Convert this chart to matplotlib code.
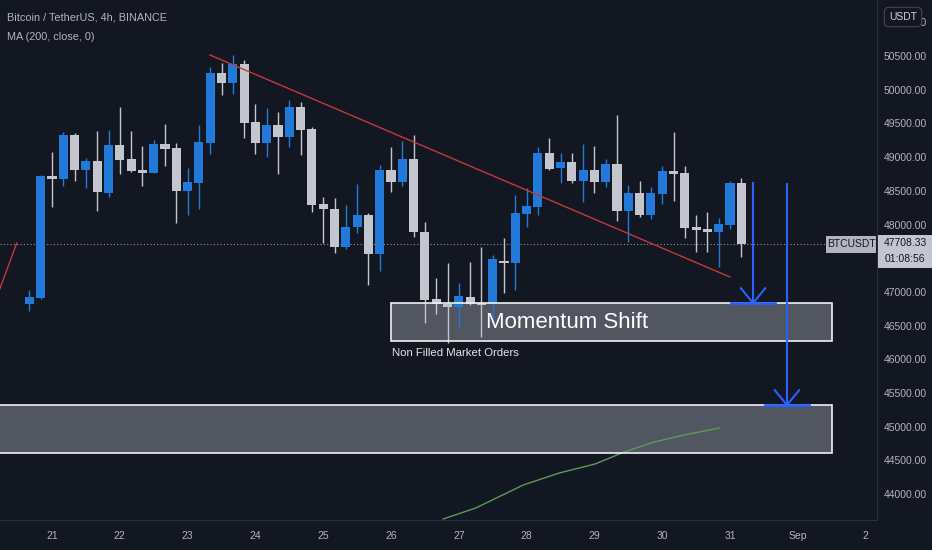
import numpy as np
import matplotlib.pyplot as plt
import matplotlib.transforms as mtransforms
from matplotlib.patches import Rectangle

# BTCUSDT 4h candles, first one opens Aug 20 16:00
opens  = [46820, 46909, 48720, 48675, 49328, 48809, 48942, 48467, 49180, 48972,
          48809, 48764, 49194, 49135, 48497, 48616, 49209, 50248, 50099, 50381,
          49521, 49209, 49476, 49298, 49743, 49417, 48304, 48230, 47666, 47963,
          48141, 47562, 48809, 48631, 48972, 47889, 46894, 46820, 46776, 46924,
          46835, 46820, 47458, 47429, 48156, 48259, 49061, 48838, 48927, 48645,
          48809, 48631, 48898, 48200, 48467, 48141, 48452, 48794, 48764, 47963,
          47933, 47889, 47993, 48616]
highs  = [47030, 48730, 49076, 49372, 49358, 48987, 49387, 49402, 49743, 49387,
          49165, 49254, 49491, 49209, 48838, 49476, 50337, 50396, 50515, 50440,
          49788, 49728, 49669, 49847, 49817, 49447, 48408, 48393, 48289, 48601,
          48170, 48883, 49150, 49239, 49328, 48037, 47206, 47429, 47132, 47444,
          47666, 47548, 47800, 48438, 48541, 49150, 49283, 49061, 49061, 49194,
          49165, 48972, 49625, 48586, 48645, 48556, 48868, 49372, 48868, 48141,
          48185, 48096, 48640, 48690]
lows   = [46717, 46890, 48260, 48571, 48645, 48541, 48200, 48408, 48749, 48779,
          48571, 48764, 48868, 48022, 48141, 48230, 49050, 49921, 49936, 49283,
          49046, 49001, 48749, 49150, 49031, 48185, 47726, 47577, 47637, 47874,
          47102, 47310, 48482, 48571, 47815, 46539, 46672, 46242, 46464, 46800,
          46331, 46554, 46984, 47028, 47963, 48141, 48809, 48616, 48616, 48334,
          48467, 48556, 48052, 47740, 48111, 48081, 48304, 48348, 47800, 47592,
          47592, 47370, 47933, 47518]
closes = [46924, 48720, 48675, 49328, 48809, 48942, 48482, 49180, 48957, 48794,
          48764, 49194, 49120, 48497, 48631, 49224, 50248, 50099, 50381, 49506,
          49209, 49476, 49298, 49743, 49402, 48289, 48230, 47666, 47963, 48141,
          47562, 48809, 48631, 48972, 47889, 46880, 46820, 46776, 46939, 46820,
          46805, 47488, 47429, 48170, 48274, 49061, 48823, 48927, 48645, 48809,
          48631, 48898, 48200, 48467, 48141, 48467, 48794, 48749, 47948, 47918,
          47889, 48007, 48616, 47708.33]
first_day = 20 + 16 / 24  # Aug 20, 16:00

# MA(200, close) line, only the visible part
ma_days = [26.77, 27.25, 27.95, 28.48, 29.01, 29.44, 29.88, 30.32, 30.84]
ma_vals = [43631, 43794, 44135, 44313, 44447, 44625, 44773, 44877, 44981]

# drawings on the chart
trend_days = [23.33, 31.0]
trend_vals = [50515, 47221]
left_line_days = [20.23, 20.48]
left_line_vals = [47043, 47726]
momentum_box = (26.0, 32.5, 46272, 46835)   # day from, day to, low, high
lower_box = (20.0, 32.5, 44610, 45322)
arrow_days = [31.34, 31.84]
arrow_tops = [48616, 48601]
arrow_tips = [46835, 45322]

day_ticks = [21, 22, 23, 24, 25, 26, 27, 28, 29, 30, 31, 32, 33]
day_labels = ['21', '22', '23', '24', '25', '26', '27', '28', '29', '30', '31', 'Sep', '2']
price_ticks = np.arange(44000, 51001, 500)

BG = '#131722'
UP = '#2179d9'
DOWN = '#c3c6ce'
TXT = '#b2b5be'
GRIDC = '#2a2e39'
plt.rcParams['font.family'] = ['Liberation Sans', 'DejaVu Sans']

fig = plt.figure(figsize=(9.32, 5.5), dpi=100, facecolor=BG)
ax = fig.add_axes([0, 30 / 550, 877 / 932, 520 / 550], facecolor=BG)
ax.set_xlim(20.233, 33.168)
ax.set_ylim(43616, 51331)

# boxes (semi transparent, under the candles)
for (d0, d1, p0, p1) in [momentum_box, lower_box]:
    ax.add_patch(Rectangle((d0, p0), d1 - d0, p1 - p0, facecolor='#b2b5be', alpha=0.4,
                           edgecolor='none', zorder=1))
    ax.add_patch(Rectangle((d0, p0), d1 - d0, p1 - p0, facecolor='none',
                           edgecolor='#f0f0f0', linewidth=1.2, zorder=6))

# candles
o = np.array(opens); h = np.array(highs); l = np.array(lows); c = np.array(closes)
t = first_day + np.arange(len(o)) * 4 / 24
cols = np.where(c >= o, UP, DOWN)
ax.vlines(t, l, h, colors=cols, linewidth=1, zorder=3)
body_lo = np.minimum(o, c)
body_h = np.maximum(np.abs(c - o), 25)
ax.bar(t, body_h, bottom=body_lo, width=0.8 * 4 / 24, color=cols, linewidth=0, zorder=4)

# last price line
ax.axhline(closes[-1], color='#9598a1', linewidth=0.8, linestyle=(0, (1, 2)), zorder=2)

# MA
ax.plot(ma_days, ma_vals, color='#5b9c54', linewidth=1, zorder=2)

# trendlines
ax.plot(trend_days, trend_vals, color='#c23a37', linewidth=1, zorder=5)
ax.plot(left_line_days, left_line_vals, color='#c23a37', linewidth=1, zorder=5)

ax.text(28.6, (momentum_box[2] + momentum_box[3]) / 2, 'Momentum Shift',
        color='white', fontsize=16, ha='center', va='center', zorder=7)
ax.text(momentum_box[0] + 0.01, momentum_box[2] - 180, 'Non Filled Market Orders',
        color='#e6e6e6', fontsize=8.2, ha='left', va='center', zorder=7)

# blue arrows
blue = '#2962ff'
for d, top, tip in zip(arrow_days, arrow_tops, arrow_tips):
    ax.plot([d, d], [top, tip], color=blue, linewidth=1.5, zorder=8)
    ax.plot([d - 0.18, d, d + 0.18], [tip + 220, tip, tip + 220], color=blue, linewidth=1.5, zorder=8)
    ax.plot([d - 0.33, d + 0.33], [tip, tip], color=blue, linewidth=2, zorder=8)

# axes styling
for s in ['left', 'top']:
    ax.spines[s].set_visible(False)
for s in ['right', 'bottom']:
    ax.spines[s].set_color(GRIDC)
ax.set_xticks(day_ticks)
ax.set_xticklabels(day_labels)
ax.set_yticks(price_ticks)
ax.set_yticklabels(['%.2f' % p for p in price_ticks])
ax.yaxis.tick_right()
ax.tick_params(axis='y', length=0, pad=5, labelsize=7.5, labelcolor=TXT)
ax.tick_params(axis='x', length=0, pad=8, labelsize=7.5, labelcolor=TXT)

# price labels on the right
blend = mtransforms.blended_transform_factory(ax.transAxes, ax.transData)
px = 1 / 877
upx = (51331 - 43616) / 520
last = closes[-1]
ax.add_patch(Rectangle((826 * px, last - 9 * upx), 50 * px, 17 * upx, transform=blend,
                       facecolor='#b2b5be', edgecolor='none', clip_on=False, zorder=9))
ax.text(851 * px, last, 'BTCUSDT', transform=blend, color=BG, fontsize=7.5,
        ha='center', va='center', zorder=10, clip_on=False)
ax.add_patch(Rectangle((878 * px, last - 24 * upx), 54 * px, 33 * upx, transform=blend,
                       facecolor='#c3c6ce', edgecolor='none', clip_on=False, zorder=9))
ax.text(905 * px, last + 1 * upx, '%.2f' % last, transform=blend, color=BG, fontsize=7.5,
        ha='center', va='center', zorder=10, clip_on=False)
ax.text(905 * px, last - 15 * upx, '01:08:56', transform=blend, color=BG, fontsize=7.5,
        ha='center', va='center', zorder=10, clip_on=False)

# header and currency badge
fig.text(7 / 932, 1 - 18 / 550, 'Bitcoin / TetherUS, 4h, BINANCE', color=TXT, fontsize=7.8,
         ha='left', va='center')
fig.text(7 / 932, 1 - 37 / 550, 'MA (200, close, 0)', color=TXT, fontsize=7.8,
         ha='left', va='center')
fig.text(903 / 932, 1 - 17 / 550, 'USDT', color='#d1d4dc', fontsize=7.5, ha='center', va='center',
         bbox=dict(boxstyle='round,pad=0.45', facecolor=BG, edgecolor='#434651', linewidth=0.8),
         zorder=20)

fig.savefig('out.png', dpi=100, facecolor=BG)
